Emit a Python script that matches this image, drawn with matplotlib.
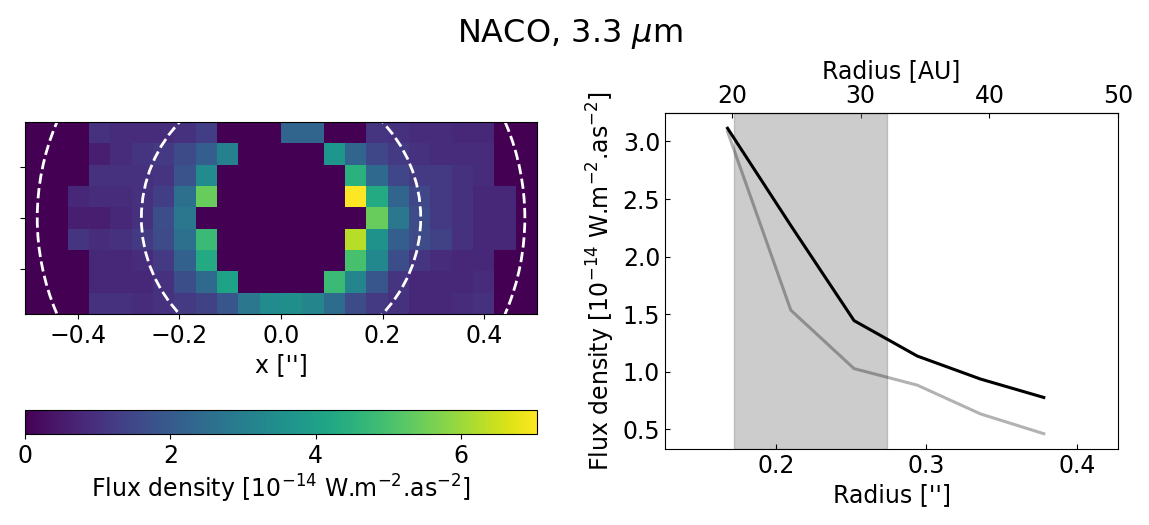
import numpy as np
import matplotlib
matplotlib.use("Agg")
import matplotlib.pyplot as plt
from matplotlib.patches import Circle

# image of the disk, 9 rows (top to bottom) x 24 columns, units 1e-14 W/m2/as2
flux_map = np.array([
    [0, 0, 0, 1.0, 0.9, 0.9, 0.9, 1.0, 1.3, 0, 0, 0, 2.3, 2.3, 0, 0, 1.1, 1.0, 0.9, 0.9, 0.8, 0.8, 0, 0],
    [0, 0, 0, 0.6, 0.9, 1.1, 1.2, 1.6, 2.1, 3.1, 0, 0, 0, 0, 3.7, 2.3, 1.5, 1.2, 1.0, 0.9, 0.9, 0.9, 0, 0],
    [0, 0, 0, 1.0, 1.0, 1.0, 1.1, 1.8, 3.4, 0, 0, 0, 0, 0, 0, 4.5, 2.4, 1.5, 1.2, 1.2, 1.0, 0.9, 0, 0],
    [0, 0, 0.8, 0.9, 0.9, 1.0, 1.3, 2.6, 5.4, 0, 0, 0, 0, 0, 0, 7.05, 4.3, 2.3, 1.5, 1.2, 1.0, 0.8, 0.8, 0],
    [0, 0, 0.6, 0.6, 0.8, 1.0, 1.7, 2.8, 0, 0, 0, 0, 0, 0, 0, 0, 5.4, 2.8, 1.6, 1.2, 1.0, 0.8, 0.8, 0],
    [0, 0, 1.1, 0.9, 1.0, 1.2, 1.6, 2.6, 4.8, 0, 0, 0, 0, 0, 0, 6.3, 3.6, 2.1, 1.6, 1.4, 1.0, 0.8, 0.8, 0],
    [0, 0, 0, 0.8, 0.8, 0.9, 1.2, 2.2, 4.3, 0, 0, 0, 0, 0, 0, 5.0, 3.3, 1.7, 1.1, 0.9, 0.8, 0.8, 0, 0],
    [0, 0, 0, 0.8, 0.8, 0.8, 1.0, 1.7, 2.4, 4.1, 0, 0, 0, 0, 4.8, 3.2, 1.9, 1.1, 0.8, 0.8, 0.8, 0.9, 0, 0],
    [0, 0, 0, 1.0, 1.0, 0.9, 1.0, 1.2, 1.4, 1.9, 2.8, 3.4, 3.5, 3.2, 2.5, 1.6, 1.2, 1.0, 0.8, 0.8, 0.9, 1.0, 0, 0],
])
pix = 0.042
ring_radii = [0.275, 0.48]

# radial profiles
radius = [0.168, 0.210, 0.252, 0.294, 0.336, 0.378]
profile_main = [3.115, 2.27, 1.443, 1.135, 0.935, 0.775]
profile_faint = [3.086, 1.534, 1.026, 0.882, 0.632, 0.460]
band = (0.172, 0.274)
dist_pc = 117.0

fs = 17
fig = plt.figure(figsize=(11.49, 5.25), dpi=100)
fig.suptitle(r"NACO, 3.3 $\mu$m", fontsize=23, x=0.4957, y=0.935, va="center")

ax1 = fig.add_axes([0.0218, 0.4019, 0.4456, 0.3657])
ny, nx = flux_map.shape
ext = [-nx * pix / 2, nx * pix / 2, -ny * pix / 2, ny * pix / 2]
im = ax1.imshow(flux_map, cmap="viridis", origin="upper", extent=ext,
                vmin=0, vmax=flux_map.max(), interpolation="nearest")
for r in ring_radii:
    ax1.add_patch(Circle((0, 0), r, fill=False, ec="white", lw=2, ls="--"))
ax1.set_xlim(ext[0], ext[1])
ax1.set_ylim(ext[2], ext[3])
ax1.set_xticks([-0.4, -0.2, 0.0, 0.2, 0.4])
ax1.set_yticks([-0.1, 0.0, 0.1])
ax1.set_yticklabels([])
ax1.tick_params(labelsize=fs)
ax1.set_xlabel("x ['']", fontsize=fs)

cax = fig.add_axes([0.0218, 0.1733, 0.4456, 0.0457])
cb = fig.colorbar(im, cax=cax, orientation="horizontal")
cb.set_ticks([0, 2, 4, 6])
cb.ax.tick_params(labelsize=fs)
cb.set_label(r"Flux density [$10^{-14}$ W.m$^{-2}$.as$^{-2}$]", fontsize=fs)

ax2 = fig.add_axes([0.5788, 0.1448, 0.3943, 0.64])
ax2.axvspan(band[0], band[1], color="gray", alpha=0.4)
ax2.plot(radius, profile_faint, color="black", alpha=0.3, lw=2.2)
ax2.plot(radius, profile_main, color="black", lw=2.2)
ax2.set_xlim(14.8 / dist_pc, 50.0 / dist_pc)
ax2.set_xticks([0.2, 0.3, 0.4])
ax2.set_yticks([0.5, 1.0, 1.5, 2.0, 2.5, 3.0])
ax2.tick_params(direction="in", labelsize=fs)
ax2.set_xlabel("Radius ['']", fontsize=fs)
ax2.set_ylabel(r"Flux density [$10^{-14}$ W.m$^{-2}$.as$^{-2}$]", fontsize=fs)

top = ax2.secondary_xaxis("top", functions=(lambda r: r * dist_pc, lambda a: a / dist_pc))
top.set_xticks([20, 30, 40, 50])
top.tick_params(direction="in", labelsize=fs)
top.set_xlabel("Radius [AU]", fontsize=fs)

fig.savefig("out.png", dpi=100)
